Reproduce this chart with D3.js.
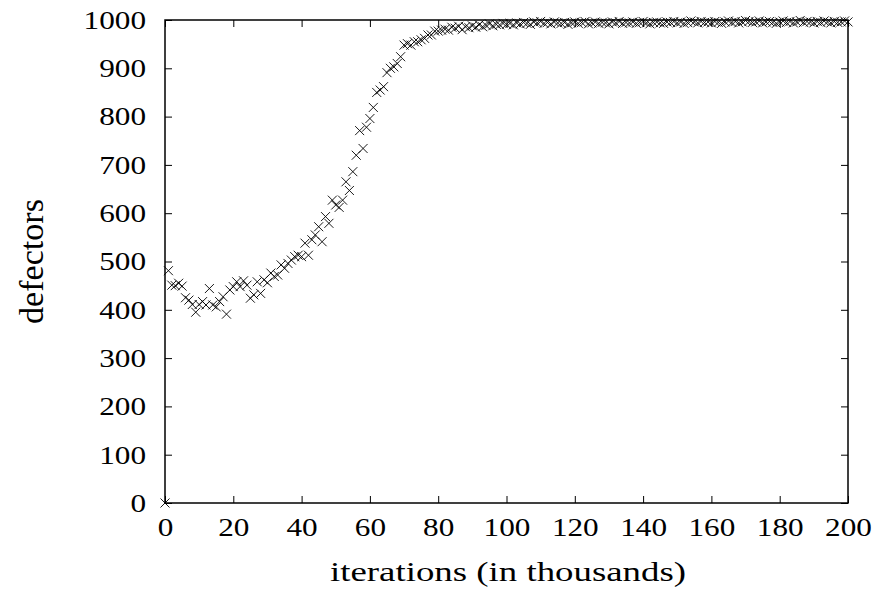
<!DOCTYPE html>
<html>
<head>
<meta charset="utf-8">
<script src="https://cdn.jsdelivr.net/npm/d3@7"></script>
<style>
  body { margin: 0; background: #fff; }
  text { font-family: "Liberation Serif", "Times New Roman", serif; fill: #000; }
</style>
</head>
<body>
<div id="container"></div>
<script>
// defectors per thousand iterations (index = thousands of iterations)
const defectorsStart = [
    0, 481, 451, 450, 455, 449, 425, 420, 411, 395,
    411, 417, 410, 444, 410, 406, 417, 427, 391, 441,
    448, 458, 448, 460, 451, 424, 431, 458, 434, 462,
    456, 476, 469, 472, 493, 486, 496, 503, 510, 513,
    510, 538, 513, 545, 555, 572, 541, 593, 579, 627,
    617, 612, 627, 665, 647, 686, 720, 771, 734, 778,
    796, 819, 850, 855, 862, 891, 900, 903, 910, 924,
    948, 951, 948, 955, 955, 959, 962, 969, 969, 977,
    977, 979, 981, 979, 985, 983, 987, 980, 986, 984,
    988, 985, 990, 986, 989, 992, 988, 991, 990, 993
];
const defectorsEnd = [
    991, 993, 990, 994, 992, 995, 993, 991, 996, 994,
    997, 993, 995, 992, 996, 994, 993, 995, 991, 994,
    996, 993, 995, 997, 992, 994, 996, 993, 995, 994,
    992, 996, 994, 997, 993, 995, 994, 996, 993, 995,
    997, 994, 992, 995, 996, 994, 993, 996, 995, 997,
    994, 996, 993, 995, 998, 996, 994, 997, 995, 996,
    994, 997, 995, 993, 996, 998, 995, 997, 994, 996,
    999, 997, 995, 996, 998, 994, 996, 997, 995, 993,
    996, 998, 995, 997, 994, 996, 999, 995, 997, 996,
    994, 997, 995, 998, 996, 994, 997, 995, 996, 998, 996
];
const defectors = defectorsStart.concat(defectorsEnd);
const xTicks = [0, 20, 40, 60, 80, 100, 120, 140, 160, 180, 200];
const yTicks = [0, 100, 200, 300, 400, 500, 600, 700, 800, 900, 1000];

const data = defectors.map((v, i) => ({ x: i, y: v }));

const width = 877,
    height = 590,
    plotLeft = 165, plotRight = 848, plotTop = 20, plotBottom = 503;

const svg = d3.select("#container").append("svg")
    .attr("width", width)
    .attr("height", height);

const x = d3.scaleLinear().domain([0, 200]).range([plotLeft, plotRight]);
const y = d3.scaleLinear().domain([0, 1000]).range([plotBottom, plotTop]);

const tickLen = 7;
const digitW = 15.6; // the reference type is wide, stretch glyphs to match

const styleLabels = g => g.selectAll("text")
    .attr("font-size", 26)
    .attr("lengthAdjust", "spacingAndGlyphs")
    .attr("textLength", function () { return this.textContent.length * digitW; });

// bottom & left axes with labels, ticks pointing inward
svg.append("g")
    .attr("transform", `translate(0, ${plotBottom})`)
    .call(d3.axisBottom(x).tickValues(xTicks).tickFormat(d3.format("d"))
        .tickSizeInner(-tickLen).tickSizeOuter(0).tickPadding(15))
    .call(styleLabels)
    .call(g => g.select(".domain").remove());

svg.append("g")
    .attr("transform", `translate(${plotLeft}, 0)`)
    .call(d3.axisLeft(y).tickValues(yTicks).tickFormat(d3.format("d"))
        .tickSizeInner(-tickLen).tickSizeOuter(0).tickPadding(19))
    .call(styleLabels)
    .call(g => g.select(".domain").remove());

// mirrored ticks on top & right
svg.append("g")
    .attr("transform", `translate(0, ${plotTop})`)
    .call(d3.axisTop(x).tickValues(xTicks).tickSizeInner(-tickLen).tickSizeOuter(0).tickFormat(""))
    .call(g => g.select(".domain").remove());

svg.append("g")
    .attr("transform", `translate(${plotRight}, 0)`)
    .call(d3.axisRight(y).tickValues(yTicks).tickSizeInner(-tickLen).tickSizeOuter(0).tickFormat(""))
    .call(g => g.select(".domain").remove());

svg.selectAll(".tick line").attr("stroke", "#000").attr("stroke-width", 1);

// frame
svg.append("rect")
    .attr("x", plotLeft).attr("y", plotTop)
    .attr("width", plotRight - plotLeft).attr("height", plotBottom - plotTop)
    .attr("fill", "none")
    .attr("stroke", "#000")
    .attr("stroke-width", 1.5);

// x markers
const s = 4.5;
svg.append("g").selectAll("path")
    .data(data)
    .enter().append("path")
    .attr("d", d => {
        const cx = x(d.x), cy = y(d.y);
        return `M${cx - s},${cy - s}L${cx + s},${cy + s}M${cx - s},${cy + s}L${cx + s},${cy - s}`;
    })
    .attr("stroke", "#000")
    .attr("stroke-width", 0.9)
    .attr("fill", "none");

// axis titles
svg.append("text")
    .attr("x", 508)
    .attr("y", 581)
    .attr("text-anchor", "middle")
    .attr("font-size", 28)
    .attr("lengthAdjust", "spacingAndGlyphs")
    .attr("textLength", 356)
    .text("iterations (in thousands)");

svg.append("text")
    .attr("transform", `translate(43, ${(plotTop + plotBottom) / 2}) rotate(-90)`)
    .attr("text-anchor", "middle")
    .attr("font-size", 34)
    .attr("lengthAdjust", "spacingAndGlyphs")
    .attr("textLength", 125)
    .text("defectors");
</script>
</body>
</html>
